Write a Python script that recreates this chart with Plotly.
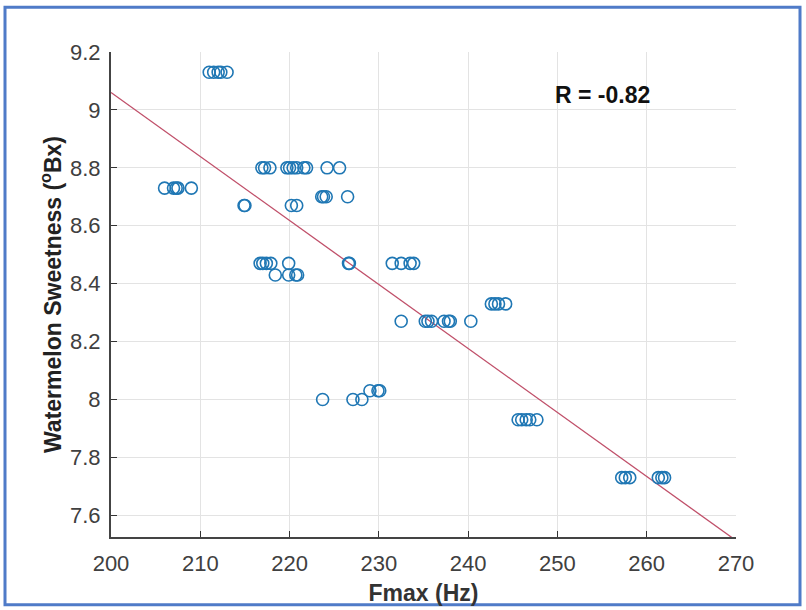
import plotly.graph_objects as go

# Data: Fmax (Hz) vs watermelon sweetness (°Bx)
fmax = [
    211.0, 211.5, 212.0, 212.3, 213.0,
    206.0, 207.0, 207.3, 207.5, 209.0,
    216.9, 217.2, 217.8, 219.7, 220.0, 220.4, 220.8, 221.6, 221.9, 224.2, 225.6,
    223.6, 223.8, 224.1, 226.5,
    214.9, 215.0, 220.2, 220.8,
    216.7, 217.0, 217.4, 217.9, 219.9, 226.6, 226.7, 231.5, 232.5, 233.5, 233.9,
    218.4, 219.9, 220.7, 220.9,
    242.6, 243.0, 243.4, 244.2,
    232.5, 235.2, 235.5, 235.9, 237.3, 237.8, 238.0, 240.3,
    229.0, 229.9, 230.1,
    223.7, 227.1, 228.1,
    245.6, 246.0, 246.5, 246.9, 247.7,
    257.2, 257.6, 258.1, 261.3, 261.7, 262.0,
]
brix = [
    9.13, 9.13, 9.13, 9.13, 9.13,
    8.73, 8.73, 8.73, 8.73, 8.73,
    8.80, 8.80, 8.80, 8.80, 8.80, 8.80, 8.80, 8.80, 8.80, 8.80, 8.80,
    8.70, 8.70, 8.70, 8.70,
    8.67, 8.67, 8.67, 8.67,
    8.47, 8.47, 8.47, 8.47, 8.47, 8.47, 8.47, 8.47, 8.47, 8.47, 8.47,
    8.43, 8.43, 8.43, 8.43,
    8.33, 8.33, 8.33, 8.33,
    8.27, 8.27, 8.27, 8.27, 8.27, 8.27, 8.27, 8.27,
    8.03, 8.03, 8.03,
    8.00, 8.00, 8.00,
    7.93, 7.93, 7.93, 7.93, 7.93,
    7.73, 7.73, 7.73, 7.73, 7.73, 7.73,
]

# Linear fit shown in the chart
fit_slope = -0.0221
fit_intercept = 13.48
fit_x = [200, 270]
fit_y = [fit_intercept + fit_slope * x for x in fit_x]

x_ticks = [200, 210, 220, 230, 240, 250, 260, 270]
y_ticks = [7.6, 7.8, 8.0, 8.2, 8.4, 8.6, 8.8, 9.0, 9.2]
y_tick_labels = ["7.6", "7.8", "8", "8.2", "8.4", "8.6", "8.8", "9", "9.2"]
r_text = "R = -0.82"

FONT = "Liberation Sans, Arial, sans-serif"

fig = go.Figure()
fig.add_trace(go.Scatter(
    x=fit_x, y=fit_y, mode="lines",
    line=dict(color="#C0506A", width=1.3), showlegend=False, hoverinfo="skip"))
fig.add_trace(go.Scatter(
    x=fmax, y=brix, mode="markers",
    marker=dict(symbol="circle-open", size=12, color="#1F77B4",
                line=dict(width=1.6, color="#1F77B4")),
    showlegend=False))

axis_font = dict(family=FONT, size=22, color="#404040")
fig.update_xaxes(
    range=[200, 270], tickvals=x_ticks, ticks="inside", ticklen=6, tickcolor="#333",
    showline=True, linecolor="#444", linewidth=2, mirror=False,
    showgrid=True, gridcolor="#e3e3e3", gridwidth=1, zeroline=False,
    tickfont=axis_font, ticklabelstandoff=6, automargin=False,
    title=dict(text="<b>Fmax (Hz)</b>", font=dict(family=FONT, size=23, color="#333"), standoff=9))
fig.update_yaxes(
    range=[7.525, 9.2], tickvals=y_ticks, ticktext=y_tick_labels, ticks="inside", ticklen=6, tickcolor="#333",
    showline=True, linecolor="#444", linewidth=2, mirror=False,
    showgrid=True, gridcolor="#e3e3e3", gridwidth=1, zeroline=False,
    tickfont=axis_font, ticklabelstandoff=4, automargin=False,
    title=dict(text="<b>Watermelon Sweetness (<sup>o</sup>Bx)</b>", font=dict(family=FONT, size=23, color="#222"), standoff=2))

fig.add_annotation(x=255.1, y=9.05, text="<b>" + r_text + "</b>", showarrow=False,
                   font=dict(family=FONT, size=23, color="#111"))

# Outer blue frame
fig.add_shape(type="rect", xref="paper", yref="paper",
              x0=-0.1696, x1=1.1024, y0=-0.1396, y1=1.0924,
              line=dict(color="#4F7BC8", width=3), fillcolor="rgba(0,0,0,0)", layer="below")

fig.update_layout(
    width=806, height=610,
    margin=dict(l=111, r=70, t=52, b=73),
    paper_bgcolor="white", plot_bgcolor="white",
)

fig.write_html("out.html")
